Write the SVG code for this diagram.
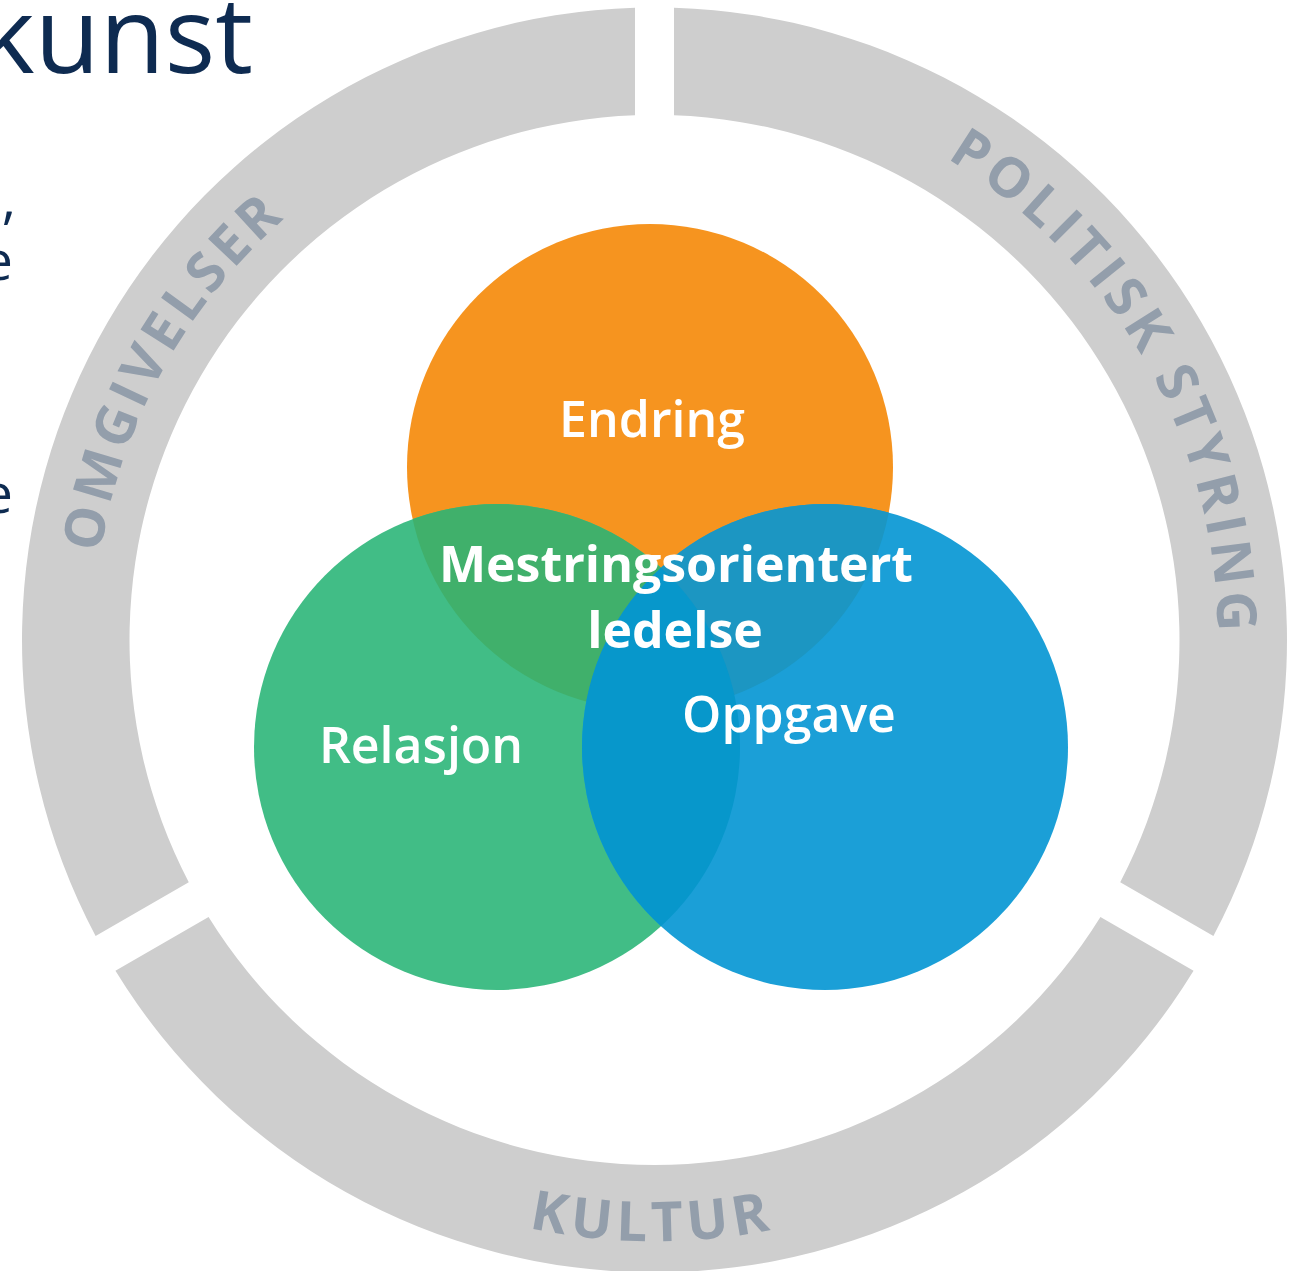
<svg xmlns="http://www.w3.org/2000/svg" width="1296" height="1271" viewBox="0 0 1296 1271">
  <style>
    .ring { fill: #cecece; }
    .ringtxt { font-family: "Open Sans", "Noto Sans", sans-serif; font-weight: 700; font-size: 55px; fill: #939eab; }
    .lbl { font-family: "Open Sans", "Noto Sans", sans-serif; font-weight: 600; font-size: 50px; fill: #ffffff; text-anchor: middle; }
    .lblb { font-family: "Open Sans", "Noto Sans", sans-serif; font-weight: 700; font-size: 50px; fill: #ffffff; text-anchor: middle; }
    .bg { font-family: "Open Sans", "Noto Sans", sans-serif; font-weight: 400; fill: #0e2b51; text-anchor: end; }
  </style>
  <defs>
    <path id="p-omg" d="M 233.8 1005.1 A 555 555 0 0 1 742.1 89.9"/>
    <path id="p-pol" d="M 554.4 89 A 558 558 0 0 1 1085.4 997.7"/>
    <path id="p-kul" d="M 87.5 845.3 A 604 604 0 0 0 1220.8 847.2"/>
    <clipPath id="clip-orange"><circle cx="650" cy="467" r="243"/></clipPath>
    <clipPath id="clip-green"><circle cx="497" cy="747" r="243"/></clipPath>
  </defs>

  <rect x="0" y="0" width="1296" height="1271" fill="#ffffff"/>

  <g id="background-text">
    <text class="bg" x="253" y="73" font-size="106">kunst</text>
    <text class="bg" x="16" y="218" font-size="55">,</text>
    <text class="bg" x="13" y="280" font-size="55">e</text>
    <text class="bg" x="13" y="513" font-size="55">e</text>
  </g>

  <g id="ring-omgivelser">
    <path class="ring" d="M 635 7.8 A 632.5 632.5 0 0 0 95.6 936.1 L 188.77 882.31 A 525 525 0 0 1 635 115.36 Z"/>
    <text class="ringtxt" letter-spacing="5"><textPath href="#p-omg" startOffset="50%" text-anchor="middle" textLength="394" lengthAdjust="spacing">OMGIVELSER</textPath></text>
  </g>

  <g id="ring-politisk-styring">
    <path class="ring" d="M 674 7.8 A 632.5 632.5 0 0 1 1213.4 936.1 L 1120.23 882.31 A 525 525 0 0 0 674 115.36 Z"/>
    <text class="ringtxt" letter-spacing="4"><textPath href="#p-pol" startOffset="50.5%" text-anchor="middle" textLength="574" lengthAdjust="spacing">POLITISK STYRING</textPath></text>
  </g>

  <g id="ring-kultur">
    <path class="ring" d="M 115.44 970.84 A 632.5 632.5 0 0 0 1193.56 970.84 L 1100.43 917.07 A 525 525 0 0 1 208.57 917.07 Z"/>
    <text class="ringtxt" letter-spacing="8"><textPath href="#p-kul" startOffset="50%" text-anchor="middle" textLength="252" lengthAdjust="spacing">KULTUR</textPath></text>
  </g>

  <g id="circle-endring">
    <circle cx="650" cy="467" r="243" fill="#f6941f"/>
  </g>
  <g id="circle-relasjon">
    <circle cx="497" cy="747" r="243" fill="#41bd86"/>
  </g>
  <g id="circle-oppgave">
    <circle cx="825" cy="747" r="243" fill="#1b9fd7"/>
  </g>

  <g id="overlaps">
    <circle cx="497" cy="747" r="243" fill="#40b06b" clip-path="url(#clip-orange)"/>
    <circle cx="825" cy="747" r="243" fill="#1c96c2" clip-path="url(#clip-orange)"/>
    <circle cx="825" cy="747" r="243" fill="#0797cb" clip-path="url(#clip-green)"/>
  </g>

  <g id="labels">
    <text class="lbl" x="652" y="437">Endring</text>
    <text class="lbl" x="421" y="763">Relasjon</text>
    <text class="lbl" x="789" y="732">Oppgave</text>
    <g id="center-label">
      <text class="lblb" x="676" y="582">Mestringsorientert</text>
      <text class="lblb" x="675" y="648">ledelse</text>
    </g>
  </g>
</svg>
